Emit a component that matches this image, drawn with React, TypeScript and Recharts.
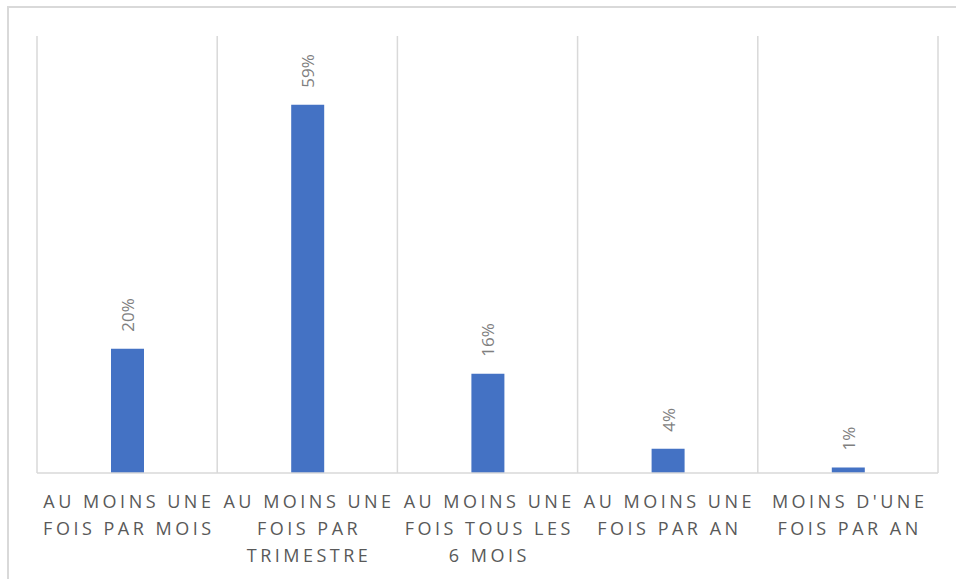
import { Bar, BarChart, CartesianGrid, LabelList, XAxis, YAxis } from 'recharts';

const CATEGORY_LINES = [
  ['AU MOINS UNE', 'FOIS PAR MOIS'],
  ['AU MOINS UNE', 'FOIS PAR', 'TRIMESTRE'],
  ['AU MOINS UNE', 'FOIS TOUS LES', '6 MOIS'],
  ['AU MOINS UNE', 'FOIS PAR AN'],
  ["MOINS D'UNE", 'FOIS PAR AN'],
];
const CATEGORIES = CATEGORY_LINES.map((lines) => lines.join(' '));
const SHARES = [0.199, 0.59, 0.159, 0.039, 0.009];

const data = CATEGORIES.map((name, i) => ({ name, value: SHARES[i] }));

const FONT = '"Open Sans", "Liberation Sans", sans-serif';
const GRID = '#d9d9d9';
const LETTER_SPACING = 3.5;

function CategoryTick(props: any) {
  const { x, y, index } = props;
  const lines = CATEGORY_LINES[index] ?? [];
  return (
    <text
      x={x}
      y={y}
      textAnchor="middle"
      fill="#595959"
      fontSize={18}
      fontFamily={FONT}
      letterSpacing={LETTER_SPACING}
    >
      {lines.map((line, i) => (
        <tspan key={i} x={x + LETTER_SPACING / 2} dy={i === 0 ? 35 : 27}>
          {line}
        </tspan>
      ))}
    </text>
  );
}

function ValueLabel(props: any) {
  const { x, y, width, value } = props;
  const cx = x + width / 2;
  const ty = y - 17;
  return (
    <text
      x={cx}
      y={ty}
      transform={`rotate(-90 ${cx} ${ty})`}
      textAnchor="start"
      dominantBaseline="central"
      fill="#7f7f7f"
      fontSize={17}
      fontFamily={FONT}
    >
      {`${Math.round(value * 100)}%`}
    </text>
  );
}

export default function App() {
  return (
    <div
      style={{
        position: 'fixed',
        left: 0,
        top: 0,
        width: 956,
        height: 579,
        overflow: 'hidden',
        background: '#fff',
      }}
    >
      <div
        style={{
          position: 'absolute',
          left: 7,
          top: 6,
          width: 980,
          height: 600,
          border: `2px solid ${GRID}`,
        }}
      />
      <div style={{ position: 'absolute', left: 0, top: 0 }}>
        <BarChart
          width={956}
          height={579}
          data={data}
          margin={{ top: 36, right: 18, bottom: 0, left: 37 }}
          barCategoryGap={0}
        >
          <CartesianGrid
            horizontal={false}
            stroke={GRID}
            strokeWidth={1.5}
            verticalCoordinatesGenerator={({ offset }: any) =>
              Array.from({ length: CATEGORIES.length + 1 }, (_, i) =>
                offset.left + (offset.width * i) / CATEGORIES.length,
              )
            }
          />
          <XAxis
            dataKey="name"
            height={106}
            interval={0}
            tickLine={false}
            tickSize={0}
            tickMargin={0}
            axisLine={{ stroke: GRID, strokeWidth: 1.5 }}
            tick={<CategoryTick />}
          />
          <YAxis hide domain={[0, 0.7]} />
          <Bar dataKey="value" fill="#4472c4" barSize={33} isAnimationActive={false}>
            <LabelList dataKey="value" content={<ValueLabel />} />
          </Bar>
        </BarChart>
      </div>
    </div>
  );
}
